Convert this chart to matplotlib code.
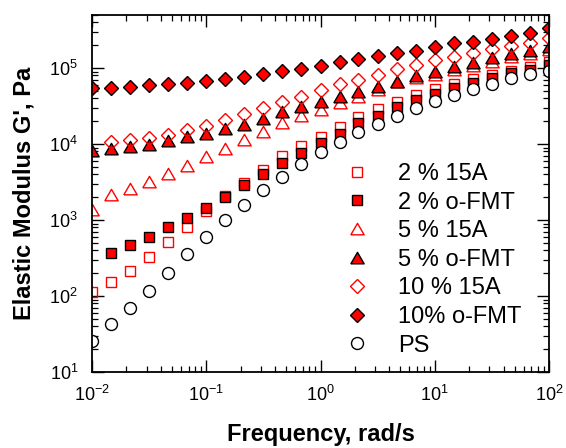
import matplotlib
matplotlib.use("Agg")
import matplotlib.pyplot as plt
from matplotlib.ticker import LogLocator, FuncFormatter, NullFormatter

plt.rcParams['font.family'] = ['Liberation Sans', 'DejaVu Sans']
plt.rcParams['mathtext.fontset'] = 'custom'
plt.rcParams['mathtext.rm'] = 'Liberation Sans'
plt.rcParams['mathtext.it'] = 'Liberation Sans:italic'
plt.rcParams['mathtext.bf'] = 'Liberation Sans:bold'

freq = [0.01, 0.0147, 0.0215, 0.0316, 0.0464, 0.0681, 0.1, 0.147, 0.215, 0.316,
        0.464, 0.681, 1.0, 1.47, 2.15, 3.16, 4.64, 6.81, 10.0, 14.7, 21.5, 31.6,
        46.4, 68.1, 100.0]

g_2_15a = [112, 152, 216, 326, 508, 813, 1310, 2070, 3110, 4570, 6880, 9300, 12500,
           16900, 22900, 28600, 36000, 44200, 53000, 61600, 71000, 80900, 91400,
           104000, 121000]
g_2_ofmt = [368, 474, 598, 803, 1050, 1450, 2030, 2890, 4010, 5600, 7700, 10200,
            13600, 18700, 23400, 30400, 37900, 45500, 54100, 62900, 73200, 85100,
            94100, 109000]
g_5_15a = [1350, 2110, 2590, 3160, 4080, 5140, 6830, 8700, 11300, 14400, 18700, 23400,
           28500, 34300, 41900, 51400, 64900, 74500, 82000, 95000, 107000, 122000,
           140000, 155000, 175000]
g_5_ofmt = [8040, 8650, 9190, 9850, 11100, 12300, 13700, 16000, 18100, 21700, 26200,
            30500, 36300, 41900, 48700, 56700, 66000, 78500, 89400, 104000, 117000,
            134000, 153000, 169000, 191000]
g_10_15a = [10700, 11300, 12100, 13100, 15300, 17300, 20700, 24800, 29500, 36100,
            42000, 51000, 61500, 69500, 81000, 96000, 109000, 127000, 141000, 159000,
            176000, 195000, 211000, 246000]
g_10_ofmt = [55000, 55000, 57000, 60000, 62000, 64000, 67000, 71000, 77000, 83000,
             91000, 97000, 106000, 121000, 130000, 144000, 159000, 169000, 187000,
             211000, 222000, 241000, 266000, 291000, 333000]
g_ps = [25.4, 42.2, 68.7, 118, 204, 357, 598, 993, 1560, 2460, 3690, 5480, 7800,
        10600, 14300, 18600, 23700, 30100, 37200, 44200, 52500, 61600, 73200, 82600,
        92000]

labels = ['2 % 15A', '2 % o-FMT', '5 % 15A', '5 % o-FMT', '10 % 15A', '10% o-FMT', 'PS']

tri = [(-1, -0.8), (1, -0.8), (0, 0.92), (-1, -0.8)]

fig = plt.figure(figsize=(5.66, 4.48), dpi=100)
ax = fig.add_axes([92/566, 1-372/448, (549-92)/566, (372-15)/448])

red = '#ff0000'
mew = 1.0
ax.plot(freq, g_2_15a, ls='none', marker='s', ms=7.8, mfc='none', mec=red, mew=mew, label=labels[0])
ax.plot(freq[1:], g_2_ofmt, ls='none', marker='s', ms=7.8, mfc=red, mec='black', mew=mew, label=labels[1])
ax.plot(freq, g_5_15a, ls='none', marker=tri, ms=9.6, mfc='none', mec=red, mew=mew, label=labels[2])
ax.plot(freq, g_5_ofmt, ls='none', marker=tri, ms=9.6, mfc=red, mec='black', mew=mew, label=labels[3])
ax.plot(freq[1:], g_10_15a, ls='none', marker='D', ms=6.8, mfc='none', mec=red, mew=mew, label=labels[4])
ax.plot(freq, g_10_ofmt, ls='none', marker='D', ms=6.8, mfc=red, mec='black', mew=mew, label=labels[5])
ax.plot(freq, g_ps, ls='none', marker='o', ms=8.6, mfc='white', mec='black', mew=mew, label=labels[6])

ax.set_xscale('log')
ax.set_yscale('log')
ax.set_xlim(0.01, 100)
ax.set_ylim(10, 5e5)

def fmt(v, pos):
    import math
    e = int(round(math.log10(v)))
    return r'$\mathregular{10^{%d}}$' % e

for axis in (ax.xaxis, ax.yaxis):
    axis.set_major_locator(LogLocator(base=10, numticks=20))
    axis.set_minor_locator(LogLocator(base=10, subs=range(2, 10), numticks=20))
    axis.set_major_formatter(FuncFormatter(fmt))
    axis.set_minor_formatter(NullFormatter())

ax.tick_params(which='both', direction='in', top=True, right=True, labelsize=13)
ax.tick_params(which='major', length=8.5, width=1.0)
ax.tick_params(which='minor', length=4.3, width=0.9)
ax.tick_params(axis='x', which='major', pad=9)
ax.tick_params(axis='y', which='major', pad=10)
for s in ax.spines.values():
    s.set_linewidth(1.3)

ax.set_xlabel('Frequency, rad/s', fontsize=17, fontweight='bold', labelpad=13)
ax.set_ylabel("Elastic Modulus G', Pa", fontsize=17, fontweight='bold', labelpad=10)

leg = fig.legend(loc='upper left', bbox_to_anchor=(339/566, 1-163/448), frameon=False,
                 fontsize=17, numpoints=1, handlelength=1.5, handletextpad=1.0,
                 labelspacing=0.28, borderpad=0, borderaxespad=0)

fig.savefig('out.png', dpi=100)
